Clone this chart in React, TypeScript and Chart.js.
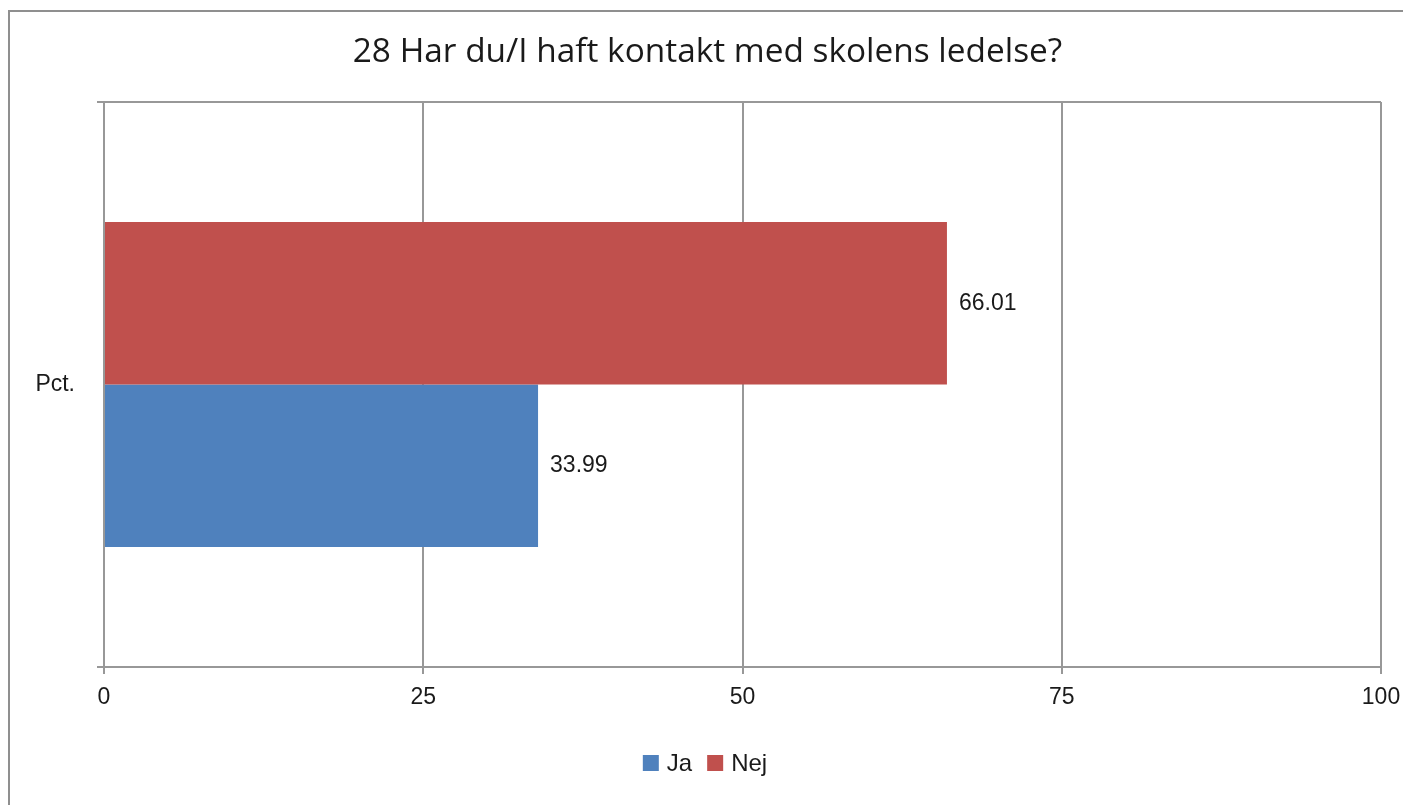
import React, { useEffect, useRef } from "react";
import { Chart, registerables } from "chart.js";

Chart.register(...registerables);

const titleText = "28 Har du/I haft kontakt med skolens ledelse?";
const categories = ["Pct."];
const seriesNames = ["Ja", "Nej"];
const jaValues = [33.99];
const nejValues = [66.01];
const xTicks = [0, 25, 50, 75, 100];

const BLUE = "#4f81bd";
const RED = "#c0504d";
const GRID = "#989898";
const LABEL_FONT = "'Liberation Sans', Arial, sans-serif";

const titleDraw = {
  id: "titleDraw",
  afterDraw(chart: any) {
    const ctx = chart.ctx;
    ctx.save();
    ctx.font = `33.4px 'Open Sans', sans-serif`;
    ctx.fillStyle = "#1a1a1a";
    ctx.textAlign = "center";
    ctx.textBaseline = "alphabetic";
    ctx.fillText(titleText, 707.5, 62);
    ctx.restore();
  },
};

const valueLabels = {
  id: "valueLabels",
  afterDatasetsDraw(chart: any) {
    const ctx = chart.ctx;
    ctx.save();
    ctx.font = `23px ${LABEL_FONT}`;
    ctx.fillStyle = "#1a1a1a";
    ctx.textAlign = "left";
    ctx.textBaseline = "middle";
    chart.data.datasets.forEach((ds: any, i: number) => {
      const meta = chart.getDatasetMeta(i);
      meta.data.forEach((bar: any, j: number) => {
        const v = ds.data[j];
        ctx.fillText(v.toFixed(2), bar.x + 12, bar.y);
      });
    });
    ctx.restore();
  },
};

const customLegend = {
  id: "customLegend",
  afterDraw(chart: any) {
    const ctx = chart.ctx;
    ctx.save();
    ctx.font = `24px ${LABEL_FONT}`;
    ctx.textBaseline = "middle";
    ctx.textAlign = "left";
    const box = 16;
    const gapText = 8;
    const gapItem = 15;
    const items = seriesNames.map((name, i) => ({
      name,
      color: i === 0 ? BLUE : RED,
      w: ctx.measureText(name).width,
    }));
    let total = 0;
    items.forEach((it, i) => {
      total += box + gapText + it.w + (i < items.length - 1 ? gapItem : 0);
    });
    const cy = 763;
    let x = 705 - total / 2;
    items.forEach((it) => {
      ctx.fillStyle = it.color;
      ctx.fillRect(x, cy - box / 2, box, box);
      x += box + gapText;
      ctx.fillStyle = "#1a1a1a";
      ctx.fillText(it.name, x, cy + 1);
      x += it.w + gapItem;
    });
    ctx.restore();
  },
};

export default function App() {
  const ref = useRef<HTMLCanvasElement>(null);

  useEffect(() => {
    if (!ref.current) return;
    const chart = new Chart(ref.current, {
      type: "bar",
      data: {
        labels: categories,
        datasets: [
          {
            label: seriesNames[1],
            data: nejValues,
            backgroundColor: RED,
            borderWidth: 0,
            barPercentage: 1,
            categoryPercentage: 0.575,
          },
          {
            label: seriesNames[0],
            data: jaValues,
            backgroundColor: BLUE,
            borderWidth: 0,
            barPercentage: 1,
            categoryPercentage: 0.575,
          },
        ],
      },
      options: {
        indexAxis: "y",
        responsive: false,
        animation: false,
        devicePixelRatio: 1,
        layout: { padding: { left: 0, right: 22, top: 102, bottom: 0 } },
        plugins: {
          legend: { display: false },
          tooltip: { enabled: false },
          title: { display: false },
        },
        scales: {
          x: {
            type: "linear",
            min: 0,
            max: 100,
            afterBuildTicks: (scale: any) => {
              scale.ticks = xTicks.map((v) => ({ value: v }));
            },
            afterFit: (scale: any) => {
              scale.height = 138;
              scale.paddingLeft = 0;
              scale.paddingRight = 0;
            },
            grid: {
              color: GRID,
              lineWidth: 2,
              tickLength: 7,
              drawTicks: true,
            },
            border: { display: true, color: GRID, width: 2 },
            ticks: {
              color: "#1a1a1a",
              padding: 10,
              font: { family: LABEL_FONT, size: 23 },
            },
          },
          y: {
            type: "category",
            afterFit: (scale: any) => {
              scale.width = 104;
              scale.paddingTop = 0;
              scale.paddingBottom = 0;
            },
            grid: {
              color: GRID,
              lineWidth: 2,
              tickLength: 7,
              offset: true,
            },
            border: { display: true, color: GRID, width: 2 },
            ticks: {
              color: "#1a1a1a",
              padding: 22,
              font: { family: LABEL_FONT, size: 23 },
            },
          },
        },
      },
      plugins: [titleDraw, valueLabels, customLegend],
    });
    return () => chart.destroy();
  }, []);

  return (
    <div
      style={{
        position: "fixed",
        left: 0,
        top: 0,
        width: 1403,
        height: 805,
        overflow: "hidden",
        background: "#fff",
      }}
    >
      <div
        style={{
          position: "absolute",
          left: 8,
          top: 10,
          width: 1500,
          height: 900,
          border: "2px solid #8f8f8f",
        }}
      />
      <canvas
        ref={ref}
        width={1403}
        height={805}
        style={{ position: "absolute", left: 0, top: 0, width: 1403, height: 805 }}
      />
    </div>
  );
}
